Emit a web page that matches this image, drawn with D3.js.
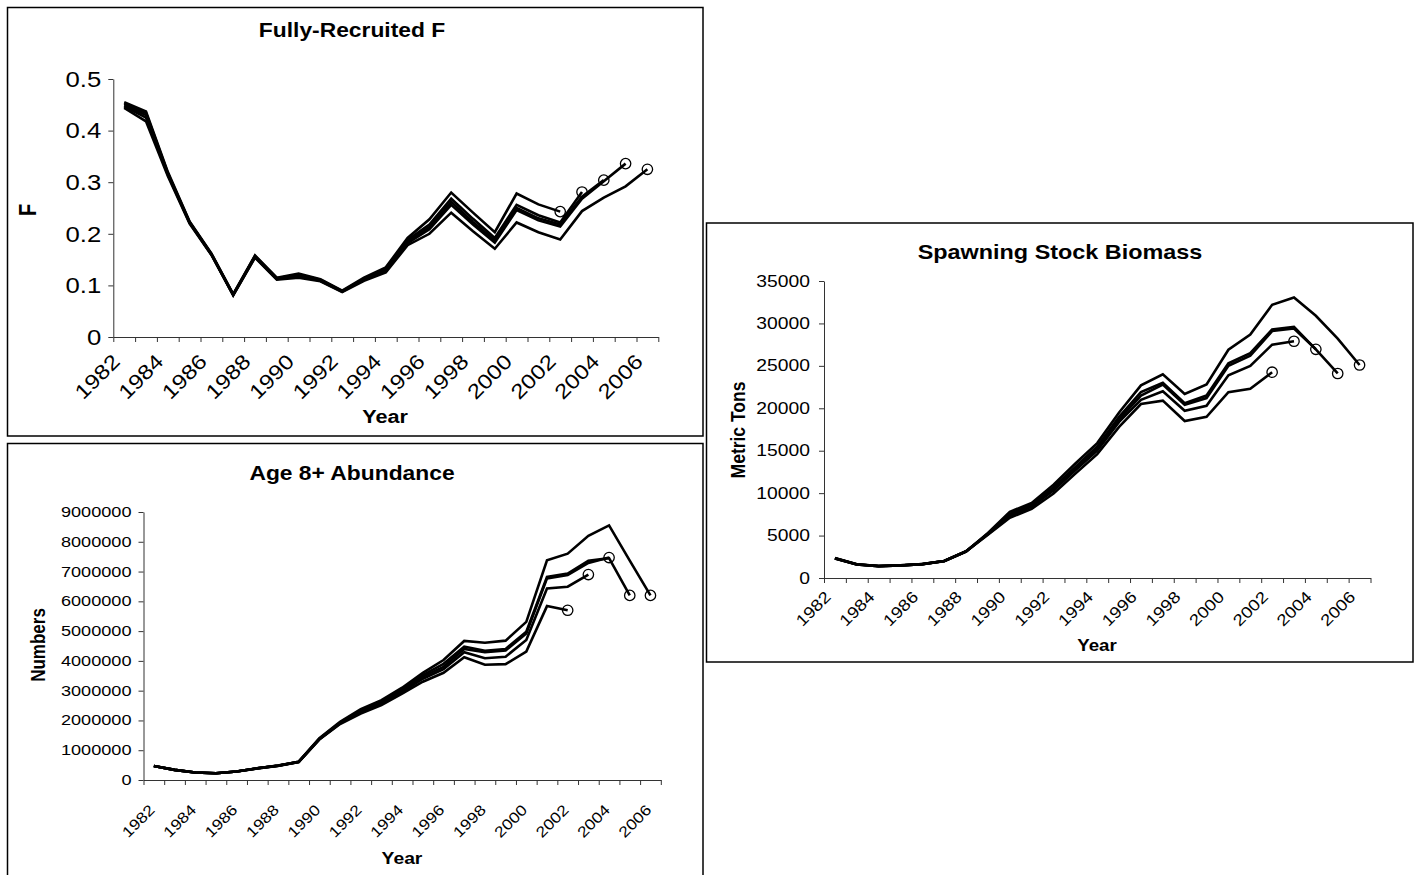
<!DOCTYPE html>
<html>
<head>
<meta charset="utf-8">
<script src="https://cdn.jsdelivr.net/npm/d3@7"></script>
<style>
  body { margin: 0; background: #fff; }
  svg { display: block; }
  text { font-family: "Liberation Sans", Arial, sans-serif; fill: #000; }
</style>
</head>
<body>
<script>
// categories
const years = [1982, 1983, 1984, 1985, 1986, 1987, 1988, 1989, 1990, 1991, 1992, 1993,
  1994, 1995, 1996, 1997, 1998, 1999, 2000, 2001, 2002, 2003, 2004, 2005, 2006];
const labelYears = [1982, 1984, 1986, 1988, 1990, 1992, 1994, 1996, 1998, 2000, 2002, 2004, 2006];

// Fully-recruited F, one array per retrospective peel (terminal year in the name)
const fPeel2002 = [0.455, 0.437, 0.320, 0.224, 0.162, 0.083, 0.158, 0.115, 0.123, 0.112, 0.090, 0.115,
  0.135, 0.192, 0.228, 0.280, 0.241, 0.203, 0.278, 0.257, 0.243];
const fPeel2003 = [0.452, 0.434, 0.318, 0.223, 0.161, 0.082, 0.157, 0.114, 0.121, 0.111, 0.089, 0.113,
  0.132, 0.188, 0.218, 0.268, 0.229, 0.192, 0.256, 0.236, 0.222, 0.281];
const fPeel2004 = [0.449, 0.430, 0.316, 0.222, 0.160, 0.082, 0.156, 0.113, 0.119, 0.110, 0.088, 0.112,
  0.130, 0.185, 0.213, 0.262, 0.223, 0.187, 0.250, 0.230, 0.218, 0.272, 0.304];
const fPeel2005 = [0.447, 0.425, 0.315, 0.221, 0.160, 0.081, 0.155, 0.112, 0.118, 0.109, 0.088, 0.111,
  0.128, 0.182, 0.209, 0.256, 0.218, 0.183, 0.246, 0.226, 0.214, 0.268, 0.302, 0.336];
const fPeel2006 = [0.444, 0.418, 0.312, 0.220, 0.159, 0.081, 0.154, 0.111, 0.115, 0.108, 0.087, 0.109,
  0.125, 0.178, 0.200, 0.241, 0.205, 0.171, 0.222, 0.203, 0.189, 0.244, 0.270, 0.292, 0.325];
const fTicks = [0, 0.1, 0.2, 0.3, 0.4, 0.5];

// Spawning stock biomass (metric tons)
const ssbPeel2002 = [2350, 1620, 1420, 1500, 1650, 2010, 3150, 5100, 7100, 8150, 9950, 12300,
  14600, 17800, 20500, 20900, 18500, 19000, 21900, 22300, 24250];
const ssbPeel2003 = [2330, 1610, 1410, 1490, 1640, 2000, 3150, 5150, 7300, 8400, 10300, 12700,
  15000, 18400, 21000, 22000, 19700, 20300, 23900, 25000, 27500, 27900];
const ssbPeel2004 = [2320, 1600, 1400, 1480, 1640, 2000, 3140, 5200, 7450, 8550, 10500, 12900,
  15300, 18700, 21500, 22800, 20400, 21200, 25000, 26200, 29100, 29400, 26950];
const ssbPeel2005 = [2310, 1600, 1400, 1480, 1630, 2000, 3130, 5230, 7550, 8650, 10700, 13100,
  15500, 19000, 21900, 23000, 20600, 21500, 25300, 26500, 29300, 29600, 26950, 24100];
const ssbPeel2006 = [2300, 1590, 1390, 1470, 1630, 1990, 3120, 5300, 7800, 8850, 11000, 13500,
  15900, 19500, 22700, 24000, 21700, 22800, 26900, 28700, 32200, 33050, 30900, 28200, 25100];
const ssbTicks = [0, 5000, 10000, 15000, 20000, 25000, 30000, 35000];

// Age 8+ abundance (numbers)
const absPeel2002 = [470000, 340000, 250000, 225000, 285000, 390000, 475000, 600000, 1360000, 1880000,
  2230000, 2520000, 2900000, 3300000, 3600000, 4120000, 3870000, 3890000, 4310000, 5840000, 5700000];
const absPeel2003 = [470000, 340000, 250000, 225000, 285000, 390000, 478000, 605000, 1370000, 1900000,
  2270000, 2560000, 2950000, 3400000, 3720000, 4290000, 4090000, 4140000, 4700000, 6430000, 6490000,
  6900000];
const absPeel2004 = [470000, 340000, 250000, 225000, 285000, 392000, 480000, 610000, 1380000, 1920000,
  2300000, 2600000, 3000000, 3470000, 3800000, 4400000, 4290000, 4350000, 4920000, 6770000, 6880000,
  7290000, 7470000];
const absPeel2005 = [470000, 340000, 250000, 225000, 285000, 392000, 482000, 612000, 1390000, 1930000,
  2340000, 2630000, 3050000, 3520000, 3900000, 4480000, 4340000, 4400000, 4980000, 6820000, 6930000,
  7360000, 7450000, 6200000];
const absPeel2006 = [470000, 340000, 250000, 225000, 285000, 395000, 485000, 615000, 1400000, 1950000,
  2380000, 2680000, 3100000, 3600000, 4030000, 4670000, 4610000, 4680000, 5310000, 7380000, 7600000,
  8200000, 8550000, 7370000, 6200000];
const absTicks = [0, 1000000, 2000000, 3000000, 4000000, 5000000, 6000000, 7000000, 8000000, 9000000];

// the source picture is stretched sideways, text included
const SX = 1.17;

const svg = d3.select("body").append("svg")
  .attr("width", 1419)
  .attr("height", 875);

function putText(g, str, x, y, opts) {
  const rot = opts.rotate || 0;
  // slanted year labels keep their 45 degrees, the rest is stretched after rotating
  const tf = opts.slant
    ? `translate(${x},${y}) rotate(${rot}) scale(${SX},1)`
    : `translate(${x},${y}) scale(${SX},1) rotate(${rot})`;
  return g.append("text")
    .attr("transform", tf)
    .attr("text-anchor", opts.anchor || "middle")
    .attr("dominant-baseline", "central")
    .style("font-size", opts.size + "px")
    .style("font-weight", opts.bold ? "bold" : "normal")
    .text(str);
}

function drawPanel(p) {
  const g = svg.append("g");

  g.append("rect")
    .attr("x", p.box[0]).attr("y", p.box[1])
    .attr("width", p.box[2]).attr("height", p.box[3])
    .attr("fill", "none")
    .attr("stroke", "#000")
    .attr("stroke-width", 1.5);

  const x = d3.scaleBand().domain(years).range([p.left, p.right]).padding(0);
  const xc = d => x(d) + x.bandwidth() / 2;
  const xEdge = d3.scaleLinear().domain([0, years.length]).range([p.left, p.right]);
  const y = d3.scaleLinear().domain([0, d3.max(p.ticks)]).range([p.bottom, p.top]);

  // x axis: a tick at every category boundary
  const xAxis = g.append("g")
    .attr("transform", `translate(0,${p.bottom})`)
    .call(d3.axisBottom(xEdge).tickValues(d3.range(years.length + 1)).tickSize(5).tickSizeOuter(0).tickFormat(""));
  xAxis.select(".domain").attr("stroke", "#333");
  xAxis.selectAll(".tick line").attr("stroke", "#333");

  labelYears.forEach(d => {
    putText(g, d, xc(d) + p.xLabDx, p.bottom + p.xLabDy,
      { anchor: "end", size: p.xTickSize, rotate: -45, slant: true });
  });

  // y axis
  const yAxis = g.append("g")
    .attr("transform", `translate(${p.left},0)`)
    .call(d3.axisLeft(y).tickValues(p.ticks).tickSize(5).tickSizeOuter(0).tickFormat(""));
  yAxis.select(".domain").attr("stroke", "#333");
  yAxis.selectAll(".tick line").attr("stroke", "#333");

  p.ticks.forEach(t => {
    putText(g, String(t), p.left - p.yLabGap, y(t), { anchor: "end", size: p.yTickSize });
  });

  // titles
  putText(g, p.title, p.titlePos[0], p.titlePos[1], { size: p.titleSize, bold: true });
  putText(g, "Year", p.xTitlePos[0], p.xTitlePos[1], { size: p.xTitleSize, bold: true });
  putText(g, p.yTitle, p.yTitlePos[0], p.yTitlePos[1], { size: p.yTitleSize, bold: true, rotate: -90 });

  const line = d3.line()
    .x(d => xc(d.year))
    .y(d => y(d.value));

  const series = p.peels.map(arr => arr.map((v, i) => ({ year: years[i], value: v })));

  g.selectAll("path.peel")
    .data(series)
    .enter()
    .append("path")
    .attr("class", "peel")
    .attr("d", line)
    .attr("fill", "none")
    .attr("stroke", "#000")
    .attr("stroke-width", 2.6);

  g.selectAll("circle.end")
    .data(series.map(s => s[s.length - 1]))
    .enter()
    .append("circle")
    .attr("class", "end")
    .attr("cx", d => xc(d.year))
    .attr("cy", d => y(d.value))
    .attr("r", 5.2)
    .attr("fill", "none")
    .attr("stroke", "#000")
    .attr("stroke-width", 1.3);
}

drawPanel({
  box: [7.5, 7.5, 695.5, 428.5],
  left: 113.3, right: 658.3, top: 79, bottom: 337,
  ticks: fTicks,
  peels: [fPeel2002, fPeel2003, fPeel2004, fPeel2005, fPeel2006],
  title: "Fully-Recruited F", titlePos: [352, 30], titleSize: 19.5,
  xTickSize: 20.5, xLabDx: -8, xLabDy: 21,
  yTickSize: 22, yLabGap: 12,
  xTitlePos: [385, 417], xTitleSize: 18.5,
  yTitle: "F", yTitlePos: [28, 210], yTitleSize: 20
});

drawPanel({
  box: [706.5, 223, 706.5, 439],
  left: 824, right: 1370.5, top: 281, bottom: 578,
  ticks: ssbTicks,
  peels: [ssbPeel2002, ssbPeel2003, ssbPeel2004, ssbPeel2005, ssbPeel2006],
  title: "Spawning Stock Biomass", titlePos: [1060, 252], titleSize: 20,
  xTickSize: 16, xLabDx: -7, xLabDy: 16,
  yTickSize: 16.5, yLabGap: 14,
  xTitlePos: [1097, 645], xTitleSize: 16,
  yTitle: "Metric Tons", yTitlePos: [738, 430], yTitleSize: 17.5
});

drawPanel({
  box: [7.5, 443.5, 695.5, 440],
  left: 143.5, right: 660.8, top: 512, bottom: 780,
  ticks: absTicks,
  peels: [absPeel2002, absPeel2003, absPeel2004, absPeel2005, absPeel2006],
  title: "Age 8+ Abundance", titlePos: [352, 473], titleSize: 19.5,
  xTickSize: 15, xLabDx: -2, xLabDy: 27,
  yTickSize: 15.5, yLabGap: 12,
  xTitlePos: [402, 858], xTitleSize: 16.5,
  yTitle: "Numbers", yTitlePos: [38, 645], yTitleSize: 17
});
</script>
</body>
</html>
